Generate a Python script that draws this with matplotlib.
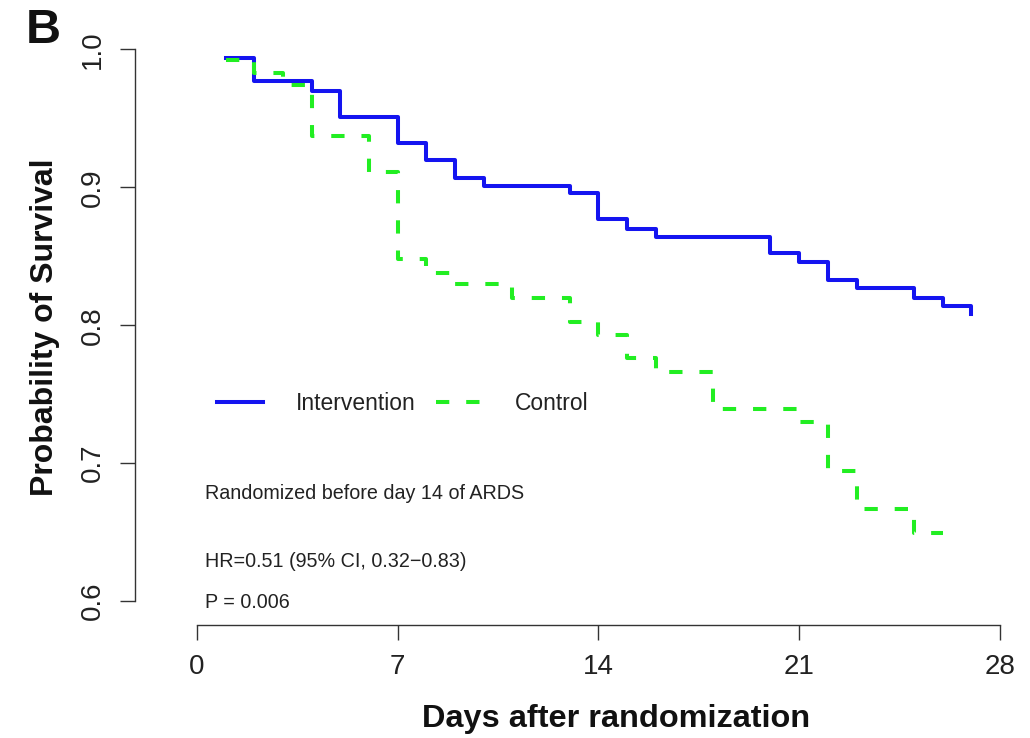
import matplotlib
matplotlib.use("Agg")
import matplotlib.pyplot as plt
from matplotlib.lines import Line2D

plt.rcParams["font.family"] = ["Liberation Sans", "DejaVu Sans"]

# Kaplan-Meier steps
int_days = [1, 2, 4, 5, 7, 8, 9, 10, 13, 14, 15, 16, 20, 21, 22, 23, 25, 26, 27]
int_surv = [0.994, 0.977, 0.970, 0.951, 0.932, 0.920, 0.907, 0.901, 0.896, 0.877,
            0.870, 0.864, 0.852, 0.846, 0.833, 0.827, 0.820, 0.814, 0.808]
ctl_days = [1, 2, 3, 4, 6, 7, 8, 9, 11, 13, 14, 15, 16, 18, 21, 22, 23, 25, 26]
ctl_surv = [0.992, 0.983, 0.974, 0.937, 0.911, 0.848, 0.838, 0.830, 0.820, 0.802,
            0.793, 0.776, 0.766, 0.739, 0.730, 0.694, 0.667, 0.649, 0.649]
x_ticks = [0, 7, 14, 21, 28]
y_ticks = [0.6, 0.7, 0.8, 0.9, 1.0]

blue = "#1414f0"
green = "#22ee22"
dark = "#333333"

fig = plt.figure(figsize=(10.3, 7.38), dpi=100)
ax = fig.add_axes([0.131, 0.153, 0.864, 0.806])

ax.step(int_days, int_surv, where="post", color=blue, lw=2.9)
ax.step(ctl_days, ctl_surv, where="post", color=green, lw=2.9, dashes=(3.3, 4.2))

ax.set_xlim(-2.16, 28.87)
ax.set_ylim(0.5826, 1.0138)
ax.set_xticks(x_ticks)
ax.set_yticks(y_ticks)
ax.set_yticklabels([f"{v:.1f}" for v in y_ticks], rotation=90, va="center")

for s in ["top", "right"]:
    ax.spines[s].set_visible(False)
ax.spines["left"].set_bounds(0.6, 1.0)
ax.spines["bottom"].set_bounds(0, 28)
for s in ["left", "bottom"]:
    ax.spines[s].set_color(dark)
    ax.spines[s].set_linewidth(1.0)
ax.tick_params(direction="out", length=11, width=1.0, color=dark,
               labelsize=20, labelcolor="#222222", pad=10)

ax.set_xlabel("Days after randomization", fontsize=23.4, fontweight="bold",
              color="#111111")
ax.xaxis.set_label_coords(0.5405, -0.132)
ax.set_ylabel("Probability of Survival", fontsize=23, fontweight="bold",
              color="#111111", labelpad=14)

handles = [Line2D([], [], color=blue, lw=2.9),
           Line2D([], [], color=green, lw=2.9, dashes=(3.3, 4.2))]
ax.legend(handles, ["Intervention", "Control"], ncol=2, frameon=False,
          loc="center left", bbox_to_anchor=(0.092, 0.373), fontsize=16.5,
          handlelength=2.0, handletextpad=1.44, columnspacing=0.92,
          borderpad=0, borderaxespad=0, labelcolor="#222222")

ax.text(0.28, 0.678, "Randomized before day 14 of ARDS", fontsize=14.2,
        color="#222222", va="center")
ax.text(0.28, 0.629, "HR=0.51 (95% CI, 0.32\u22120.83)", fontsize=14.2,
        color="#222222", va="center")
ax.text(0.28, 0.599, "P = 0.006", fontsize=14.2, color="#222222", va="center")

fig.text(26 / 1030, 1 - 8 / 738, "B", fontsize=35, fontweight="bold",
         color="#111111", va="top")

fig.savefig("out.png", dpi=100, facecolor="white")
